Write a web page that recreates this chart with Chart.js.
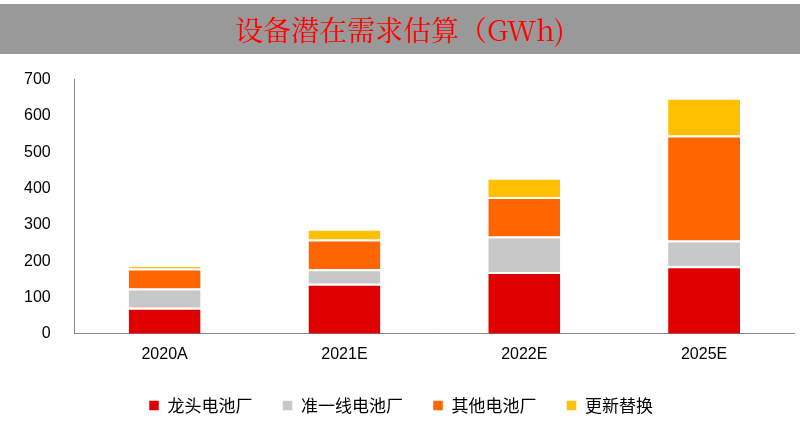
<!DOCTYPE html>
<html><head><meta charset="utf-8">
<script src="https://cdn.jsdelivr.net/npm/chart.js@4"></script>
<style>
body{margin:0;width:804px;height:428px;background:#fff;overflow:hidden;font-family:Arial,"Liberation Sans","Noto Sans CJK SC";}
#t{position:absolute;left:0;top:4px;width:800px;height:50px;background:#999;color:#f00;font:28px "Noto Serif CJK SC","Noto Sans CJK SC",serif;text-align:center;line-height:50px;}
#c{position:absolute;left:0;top:54px;width:804px;height:374px;}
</style></head><body>
<div id="t">设备潜在需求估算（GWh)</div>
<div id="c"><canvas id="cv"></canvas></div>
<script>
const categories=["2020A","2021E","2022E","2025E"];
const leader=[72,138,170,186];
const quasi=[53,40,98,71];
const others=[55,82,109,289];
const replace=[8,29,53,104];
const yTicks=[0,100,200,300,400,500,600,700];
const mk=(label,data,color)=>({label,data,backgroundColor:color,borderColor:"#fff",borderWidth:{top:2},borderSkipped:"bottom",barPercentage:0.4,categoryPercentage:1});
new Chart(document.getElementById("cv"),{type:"bar",
data:{labels:categories,datasets:[mk("龙头电池厂",leader,"#e00000"),mk("准一线电池厂",quasi,"#c8c8c8"),mk("其他电池厂",others,"#ff6600"),mk("更新替换",replace,"#ffc000")]},
options:{responsive:true,maintainAspectRatio:false,animation:false,
layout:{padding:{left:8,right:10,top:1,bottom:4}},
plugins:{legend:{position:"bottom",labels:{boxWidth:10,boxHeight:10,padding:30,color:"#000",font:{size:17,family:"Noto Sans CJK SC"}}},tooltip:{enabled:false}},
scales:{x:{stacked:true,grid:{display:false},border:{color:"#888"},ticks:{color:"#000",font:{size:16}}},
y:{stacked:true,min:0,max:700,afterBuildTicks:a=>{a.ticks=yTicks.map(v=>({value:v}));},grid:{display:false,drawTicks:true},border:{color:"#888"},ticks:{color:"#000",font:{size:16},padding:16}}}}});
</script></body></html>
